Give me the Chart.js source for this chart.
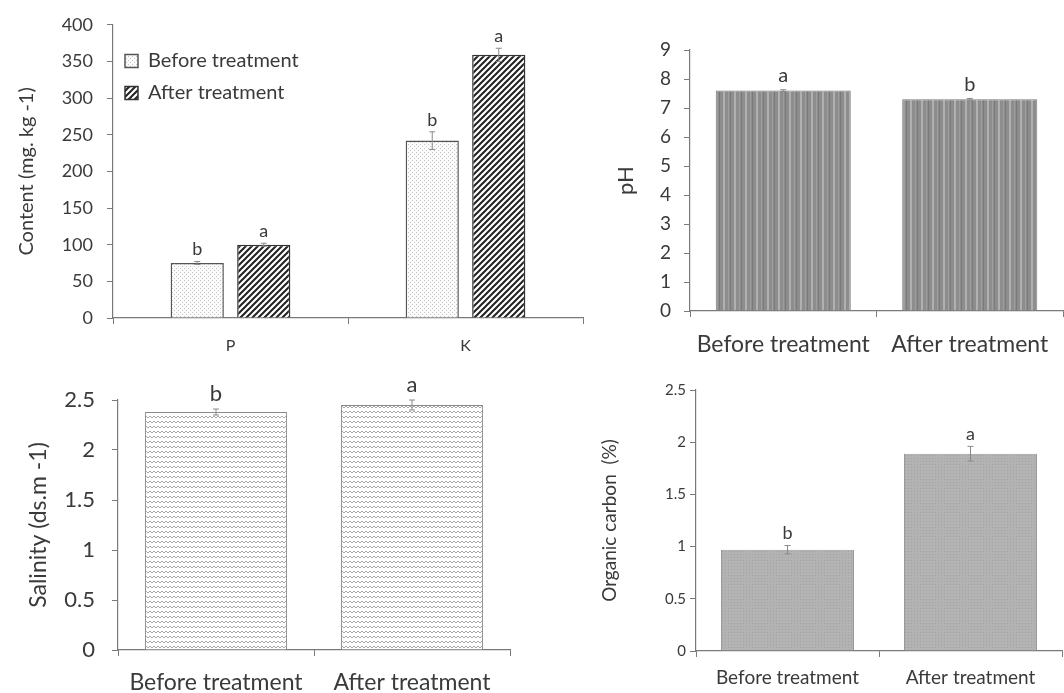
<!DOCTYPE html>
<html>
<head>
<meta charset="utf-8">
<script src="https://cdn.jsdelivr.net/npm/chart.js@4"></script>
<style>
  html, body { margin: 0; padding: 0; background: #fff; }
  body { width: 1064px; height: 693px; position: relative; overflow: hidden; }
  .panel { position: absolute; }
</style>
</head>
<body>
<div class="panel" style="left:0;top:0;width:600px;height:365px"><canvas id="nutrientChart"></canvas></div>
<div class="panel" style="left:600px;top:0;width:464px;height:365px"><canvas id="phChart"></canvas></div>
<div class="panel" style="left:0;top:350px;width:560px;height:343px"><canvas id="salinityChart"></canvas></div>
<div class="panel" style="left:560px;top:350px;width:504px;height:343px"><canvas id="carbonChart"></canvas></div>
<script>
/* ── DATA ───────────────────────────────────── */
const nutrientCats   = ['P', 'K'];
const nutrientBefore = [75, 242];
const nutrientAfter  = [100, 359];
const nutrientBeforeErr = [2, 12];
const nutrientAfterErr  = [2, 9];
const nutrientBeforeLetters = ['b', 'b'];
const nutrientAfterLetters  = ['a', 'a'];
const seriesNames = ['Before treatment', 'After treatment'];

const treatmentCats = ['Before treatment', 'After treatment'];
const phValues  = [7.6, 7.3];
const phErr     = [0.03, 0.03];
const phLetters = ['a', 'b'];

const salinityValues  = [2.38, 2.45];
const salinityErr     = [0.03, 0.05];
const salinityLetters = ['b', 'a'];

const carbonValues  = [0.97, 1.89];
const carbonErr     = [0.04, 0.07];
const carbonLetters = ['b', 'a'];

/* ── STYLE HELPERS ──────────────────────────── */
const FONT = 'Lato, sans-serif';
const TEXT = '#3a3a3a';
const AXIS = '#7a7a7a';
Chart.defaults.font.family = FONT;
Chart.defaults.color = TEXT;
Chart.defaults.animation = false;

function pattern(w, h, draw) {
    const c = document.createElement('canvas');
    c.width = w; c.height = h;
    const g = c.getContext('2d');
    draw(g);
    return g.createPattern(c, 'repeat');
}
const dotsLight = pattern(4, 4, g => {
    g.fillStyle = '#fbfbfb'; g.fillRect(0, 0, 4, 4);
    g.fillStyle = '#c4c4c4'; g.fillRect(0, 0, 1, 1); g.fillRect(2, 2, 1, 1);
});
const hatch = pattern(6, 6, g => {
    g.fillStyle = '#fff'; g.fillRect(0, 0, 6, 6);
    g.strokeStyle = '#222'; g.lineWidth = 2;
    g.beginPath();
    g.moveTo(-1, 7); g.lineTo(7, -1);
    g.moveTo(-1, 1); g.lineTo(1, -1);
    g.moveTo(5, 7); g.lineTo(7, 5);
    g.stroke();
});
const stripes = pattern(11, 4, g => {
    g.fillStyle = '#8d8d8d'; g.fillRect(0, 0, 11, 4);
    g.fillStyle = '#b0b0b0'; g.fillRect(2, 0, 2, 4);
    g.fillStyle = '#9e9e9e'; g.fillRect(7, 0, 1, 4);
    g.fillStyle = '#7a7a7a'; g.fillRect(9, 0, 1, 4);
});
const waves = pattern(8, 5, g => {
    g.fillStyle = '#fff'; g.fillRect(0, 0, 8, 5);
    g.strokeStyle = '#a8a8a8'; g.lineWidth = 1;
    g.beginPath();
    g.moveTo(0, 3); g.lineTo(2, 1); g.lineTo(4, 3); g.lineTo(6, 1); g.lineTo(8, 3);
    g.stroke();
});
const dotsGray = pattern(3, 3, g => {
    g.fillStyle = '#b3b3b3'; g.fillRect(0, 0, 3, 3);
    g.fillStyle = '#a2a2a2'; g.fillRect(0, 0, 1, 1);
});

// error bars + significance letters, from dataset.errors / dataset.letters
const errorLetters = {
    id: 'errorLetters',
    afterDatasetsDraw(chart, args, opts) {
        const ctx = chart.ctx;
        const y = chart.scales.y;
        chart.data.datasets.forEach((ds, i) => {
            const meta = chart.getDatasetMeta(i);
            meta.data.forEach((bar, j) => {
                const v = ds.data[j], e = ds.errors[j];
                const top = y.getPixelForValue(v + e);
                const bot = y.getPixelForValue(v - e);
                ctx.save();
                ctx.strokeStyle = '#8a8a8a'; ctx.lineWidth = 1;
                ctx.beginPath();
                ctx.moveTo(bar.x, top); ctx.lineTo(bar.x, bot);
                ctx.moveTo(bar.x - 3, top); ctx.lineTo(bar.x + 3, top);
                ctx.moveTo(bar.x - 3, bot); ctx.lineTo(bar.x + 3, bot);
                ctx.stroke();
                ctx.fillStyle = TEXT;
                ctx.font = opts.size + 'px ' + FONT;
                ctx.textAlign = 'center'; ctx.textBaseline = 'bottom';
                ctx.fillText(ds.letters[j], bar.x, top - opts.gap);
                ctx.restore();
            });
        });
    }
};

function xAxis(bottomGap, size, pad) {
    return {
        grid: { display: true, drawOnChartArea: false, offset: true, tickLength: 6, color: AXIS },
        border: { color: AXIS, width: 1.2 },
        ticks: { color: TEXT, font: { size }, padding: pad, maxRotation: 0, autoSkip: false },
        afterFit: s => { s.height = bottomGap; }
    };
}
function yAxis(axisX, max, step, size, pad, title, titleSize, titleX) {
    return {
        min: 0, max,
        grid: { display: true, drawOnChartArea: false, tickLength: 6, color: AXIS },
        border: { color: AXIS, width: 1.2 },
        ticks: { color: TEXT, font: { size }, stepSize: step, padding: pad,
                 callback: v => String(v) },
        title: { display: true, text: title, color: TEXT, font: { size: titleSize },
                 padding: { top: titleX - titleSize * 0.6, bottom: 0 } },
        afterFit: s => { s.width = axisX; }
    };
}
const noLegend = { legend: { display: false }, tooltip: { enabled: false } };

/* ── P AND K CONTENT ────────────────────────── */
new Chart(document.getElementById('nutrientChart'), {
    type: 'bar',
    data: {
        labels: nutrientCats,
        datasets: [
            { label: seriesNames[0], data: nutrientBefore, errors: nutrientBeforeErr,
              letters: nutrientBeforeLetters, backgroundColor: dotsLight,
              borderColor: '#555', borderWidth: 1.5,
              barPercentage: 0.8, categoryPercentage: 0.566 },
            { label: seriesNames[1], data: nutrientAfter, errors: nutrientAfterErr,
              letters: nutrientAfterLetters, backgroundColor: hatch,
              borderColor: '#333', borderWidth: 1.5,
              barPercentage: 0.8, categoryPercentage: 0.566 }
        ]
    },
    options: {
        responsive: true, maintainAspectRatio: false,
        layout: { padding: { top: 22, right: 17, left: 0, bottom: 0 } },
        plugins: {
            tooltip: { enabled: false },
            legend: {
                position: 'chartArea', align: 'start',
                title: { display: true, text: ' ', font: { size: 10 }, padding: { top: 0, bottom: 27 } },
                labels: { boxWidth: 13, boxHeight: 13, padding: 12, color: TEXT, font: { size: 20 } }
            },
            errorLetters: { size: 18, gap: 3 }
        },
        scales: {
            x: xAxis(365 - 318, 16, 12),
            y: yAxis(113, 400, 50, 18, 14, 'Content (mg. kg -1)', 20, 27)
        }
    },
    plugins: [errorLetters]
});

/* ── pH ─────────────────────────────────────── */
new Chart(document.getElementById('phChart'), {
    type: 'bar',
    data: {
        labels: treatmentCats,
        datasets: [{ data: phValues, errors: phErr, letters: phLetters,
                     backgroundColor: stripes, borderColor: '#7a7a7a', borderWidth: 1,
                     barPercentage: 0.724, categoryPercentage: 1 }]
    },
    options: {
        responsive: true, maintainAspectRatio: false,
        layout: { padding: { top: 50, right: 1, left: 0, bottom: 0 } },
        plugins: { ...noLegend, errorLetters: { size: 20, gap: 4 } },
        scales: {
            x: xAxis(365 - 311, 23, 14),
            y: yAxis(90, 9, 1, 19, 13, 'pH', 22, 26)
        }
    },
    plugins: [errorLetters]
});

/* ── SALINITY ───────────────────────────────── */
new Chart(document.getElementById('salinityChart'), {
    type: 'bar',
    data: {
        labels: treatmentCats,
        datasets: [{ data: salinityValues, errors: salinityErr, letters: salinityLetters,
                     backgroundColor: waves, borderColor: '#8a8a8a', borderWidth: 1,
                     barPercentage: 0.724, categoryPercentage: 1 }]
    },
    options: {
        responsive: true, maintainAspectRatio: false,
        layout: { padding: { top: 50, right: 50, left: 0, bottom: 0 } },
        plugins: { ...noLegend, errorLetters: { size: 22, gap: 4 } },
        scales: {
            x: xAxis(343 - 300, 23, 13),
            y: yAxis(118, 2.5, 0.5, 22, 17, 'Salinity (ds.m -1)', 23, 39)
        }
    },
    plugins: [errorLetters]
});

/* ── ORGANIC CARBON ─────────────────────────── */
new Chart(document.getElementById('carbonChart'), {
    type: 'bar',
    data: {
        labels: treatmentCats,
        datasets: [{ data: carbonValues, errors: carbonErr, letters: carbonLetters,
                     backgroundColor: dotsGray, borderColor: '#9a9a9a', borderWidth: 1,
                     barPercentage: 0.727, categoryPercentage: 1 }]
    },
    options: {
        responsive: true, maintainAspectRatio: false,
        layout: { padding: { top: 40, right: 2, left: 0, bottom: 0 } },
        plugins: { ...noLegend, errorLetters: { size: 18, gap: 3 } },
        scales: {
            x: xAxis(343 - 301, 19, 9),
            y: yAxis(136, 2.5, 0.5, 15, 4, 'Organic carbon  (%)', 19, 50)
        }
    },
    plugins: [errorLetters]
});
</script>
</body>
</html>
